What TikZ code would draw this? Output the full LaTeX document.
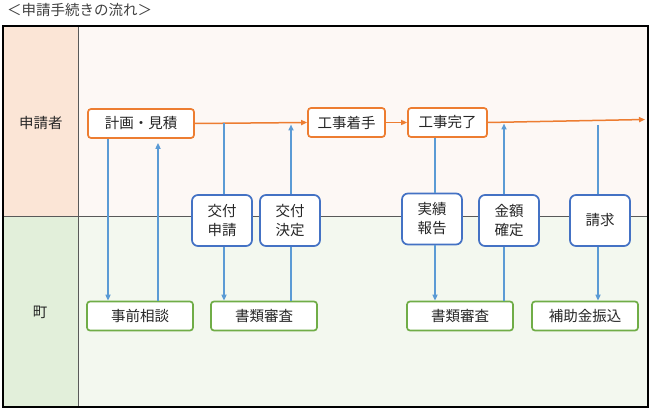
\documentclass[tikz,border=0pt]{standalone}
\usepackage{fontspec}
\setmainfont{Noto Sans CJK JP}
\usetikzlibrary{arrows.meta}
\definecolor{orangeC}{HTML}{ED7D31}
\definecolor{blueB}{HTML}{4472C4}
\definecolor{blueA}{HTML}{5B9BD5}
\definecolor{greenC}{HTML}{70AD47}
\definecolor{topL}{HTML}{FBE5D6}
\definecolor{topR}{HTML}{FDF8F5}
\definecolor{botL}{HTML}{E2EFDA}
\definecolor{botR}{HTML}{F3F8EF}
\definecolor{gridC}{HTML}{595959}
\tikzset{
  obox/.style={draw=orangeC, line width=1.7pt, rounded corners=3pt, fill=white, minimum height=29pt, inner sep=0pt, font=\fontsize{14.5}{16}\selectfont, text=black!85},
  bbox/.style={draw=blueB, line width=1.7pt, rounded corners=6pt, fill=white, minimum width=60pt, minimum height=51pt, inner sep=0pt, align=center, font=\fontsize{14.5}{19}\selectfont, text=black!85},
  gbox/.style={draw=greenC, line width=1.7pt, rounded corners=3pt, fill=white, minimum width=106pt, minimum height=29pt, inner sep=0pt, font=\fontsize{14.5}{16}\selectfont, text=black!85},
  oarr/.style={draw=orangeC, line width=1.5pt, -{Triangle[length=6pt,width=5pt]}},
  barr/.style={draw=blueA, line width=1.5pt, -{Triangle[length=6pt,width=5pt]}},
  bline/.style={draw=blueA, line width=1.5pt},
  lbl/.style={font=\fontsize{14.5}{16}\selectfont, text=black!85},
}
\begin{document}
\begin{tikzpicture}[x=1pt,y=-1pt]
\useasboundingbox (0,0) rectangle (650,411);
% title
\node[anchor=west, inner sep=0pt, font=\fontsize{14.5}{16}\selectfont, text=black!75] (title) at (7,10) {＜申請手続きの流れ＞};
% lanes
\fill[topL] (3,26) rectangle (78,216);
\fill[topR] (78,26) rectangle (648,216);
\fill[botL] (3,216) rectangle (78,407);
\fill[botR] (78,216) rectangle (648,407);
\draw[gridC, line width=0.8pt] (78,26) -- (78,407);
\draw[gridC, line width=0.8pt] (3,216) -- (648,216);
\draw[black, line width=1.5pt] (3,26) rectangle (648,407);
\node[lbl] (lane1) at (41,123) {申請者};
\node[lbl] (lane2) at (40,312) {町};
% coordinates for vertical lines
\coordinate (x1) at (108,0);
\coordinate (x2) at (158,0);
\coordinate (x3) at (224,0);
\coordinate (x4) at (291,0);
\coordinate (x5) at (435,0);
\coordinate (x6) at (504,0);
\coordinate (x7) at (598,0);
\coordinate (endp) at (645,119.5);
% orange boxes
\node[obox, minimum width=106pt] (keikaku) at (141,123.5) {計画・見積};
\node[obox, minimum width=77pt] (chakushu) at (346.5,122.5) {工事着手};
\node[obox, minimum width=79pt] (kanryo) at (447.5,122.5) {工事完了};
% blue boxes
\node[bbox] (koufushinsei) at (222,220.5) {交付\\申請};
\node[bbox] (koufukettei) at (290,220.5) {交付\\決定};
\node[bbox] (jisseki) at (432,219) {実績\\報告};
\node[bbox] (kingaku) at (509,220.5) {金額\\確定};
\node[bbox] (seikyu) at (600,220.5) {請求};
% green boxes
\node[gbox] (jizen) at (140,316) {事前相談};
\node[gbox] (shorui1) at (264,316) {書類審査};
\node[gbox] (shorui2) at (460,316) {書類審査};
\node[gbox] (hojokin) at (585,316) {補助金振込};
% orange arrows
\draw[oarr] (keikaku.east) -- (chakushu.west);
\draw[oarr] (chakushu.east) -- (kanryo.west);
\draw[oarr] (kanryo.east) -- (endp);
% blue connectors
\draw[barr] (keikaku.south -| x1) -- (jizen.north -| x1);
\draw[barr] (jizen.north -| x2) -- ([yshift=-4pt]keikaku.south -| x2);
\draw[bline] (keikaku.east -| x3) -- (koufushinsei.north -| x3);
\draw[barr] (koufushinsei.south -| x3) -- (shorui1.north -| x3);
\draw[bline] (shorui1.north -| x4) -- (koufukettei.south -| x4);
\draw[barr] (koufukettei.north -| x4) -- ([yshift=-1pt]keikaku.east -| x4);
\draw[bline, line width=2.6pt] (kanryo.south -| x5) -- (jisseki.north -| x5);
\draw[barr] (jisseki.south -| x5) -- (shorui2.north -| x5);
\draw[bline] (shorui2.north -| x6) -- (kingaku.south -| x6);
\draw[barr] (kingaku.north -| x6) -- ([yshift=-1pt]kanryo.east -| x6);
\coordinate (sq) at (598,125);
\draw[bline] (sq) -- (seikyu.north -| x7);
\draw[barr] (seikyu.south -| x7) -- (hojokin.north -| x7);
\end{tikzpicture}
\end{document}
